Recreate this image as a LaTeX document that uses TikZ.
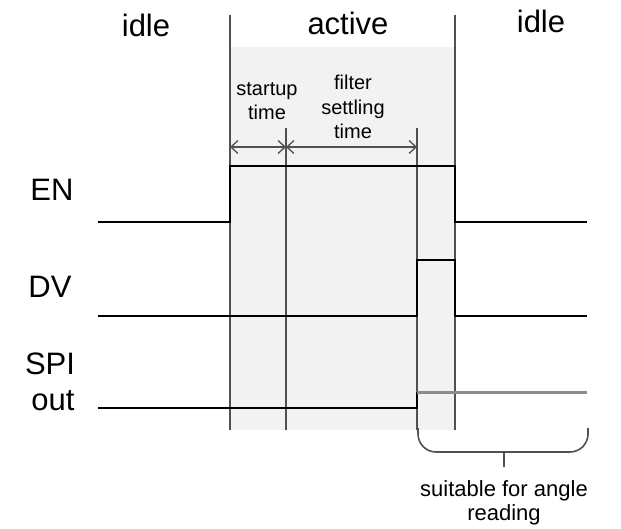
\documentclass[tikz,border=0pt]{standalone}
\usepackage{fontspec}
\setmainfont{Liberation Sans}
\usetikzlibrary{arrows.meta}
\definecolor{activebg}{HTML}{F2F2F2}
\definecolor{vline}{HTML}{505050}
\definecolor{spihigh}{HTML}{8C8C8C}
\tikzset{
  biglabel/.style={inner sep=0pt, anchor=base, font=\fontsize{31}{37}\selectfont},
  smalllabel/.style={inner sep=0pt, anchor=base, align=center, font=\fontsize{20}{24.5}\selectfont},
  notelabel/.style={inner sep=0pt, anchor=base, align=center, font=\fontsize{22}{24}\selectfont},
  boundary/.style={draw=vline, line width=2pt},
  signal/.style={draw=black, line width=1.8pt},
  dimline/.style={draw=vline, line width=1.3pt, {Straight Barb[length=7pt,width=13pt]}-{Straight Barb[length=7pt,width=13pt]}},
  bracestyle/.style={draw=vline, line width=1.6pt, rounded corners=18pt}
}
\begin{document}
\begin{tikzpicture}[x=1pt,y=-1pt]
\useasboundingbox (0,0) rectangle (621,529);
% shaded active region
\fill[activebg] (230,47) rectangle (455,430);
% coordinates
\coordinate (a0) at (230,15);  \coordinate (a1) at (230,430);
\coordinate (b0) at (455,15);  \coordinate (b1) at (455,430);
\coordinate (c0) at (286,128); \coordinate (c1) at (286,430);
\coordinate (d0) at (417,128); \coordinate (d1) at (417,430);
% boundary lines
\draw[boundary] (a0) -- (a1);
\draw[boundary] (b0) -- (b1);
\draw[boundary] (c0) -- (c1);
\draw[boundary] (d0) -- (d1);
% dimension arrows
\coordinate (m0) at (230,147);
\coordinate (m1) at (286,147);
\coordinate (m2) at (417,147);
\draw[dimline] (m0) -- (m1);
\draw[dimline] (m1) -- (m2);
% signals
\coordinate (en0) at (98,222); \coordinate (en1) at (587,222);
\draw[signal] (en0) -- (230,222) -- (230,166) -- (455,166) -- (455,222) -- (en1);
\coordinate (dv0) at (98,316); \coordinate (dv1) at (587,316);
\draw[signal] (dv0) -- (417,316) -- (417,260) -- (455,260) -- (455,316) -- (dv1);
\coordinate (sp0) at (98,408); \coordinate (sp1) at (417,392); \coordinate (sp2) at (587,392);
\draw[signal] (sp0) -- (417,408) -- (sp1);
\draw[draw=spihigh, line width=3pt] (sp1) -- (sp2);
% brace
\coordinate (br0) at (418,428); \coordinate (br1) at (588,428);
\coordinate (brm) at (504,452); \coordinate (brt) at (504,467);
\draw[bracestyle] (br0) -- (418,452) -- (588,452) -- (br1);
\draw[draw=vline, line width=1.6pt] (brm) -- (brt);
% labels
\node[biglabel] (idle1) at (146,37) {idle};
\node[biglabel] (active) at (348,35) {active};
\node[biglabel] (idle2) at (541,33) {idle};
\node[biglabel] (en) at (52,201) {EN};
\node[biglabel] (dv) at (50,298) {DV};
\node[biglabel] (spi) at (50,374) {SPI};
\node[biglabel] (out) at (53,410) {out};
\node[smalllabel] (startup) at (267,120) {startup\\time};
\node[smalllabel] (filter) at (353,139) {filter\\settling\\time};
\node[notelabel] (suit) at (504,520) {suitable for angle\\reading};
\end{tikzpicture}
\end{document}
